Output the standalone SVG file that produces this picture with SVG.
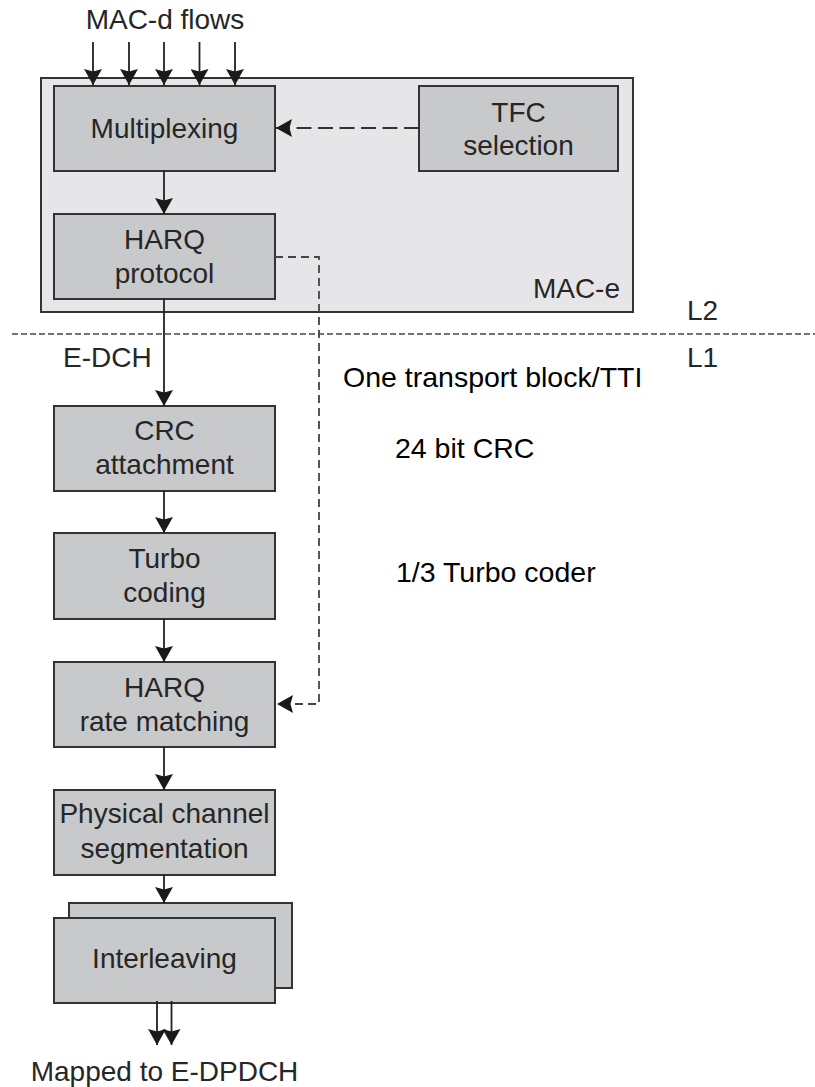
<svg xmlns="http://www.w3.org/2000/svg" width="815" height="1087" viewBox="0 0 815 1087">
  <style>
    .box { fill: #c8c9cb; stroke: #333; stroke-width: 2; }
    .outer { fill: #e6e6e8; stroke: #333; stroke-width: 2; }
    .lbl { font-family: "Liberation Sans", Arial, sans-serif; font-size: 28px; fill: #262626; text-anchor: middle; }
    .note { font-family: "Liberation Sans", Arial, sans-serif; font-size: 28.5px; fill: #000; }
    .tag { font-family: "Liberation Sans", Arial, sans-serif; font-size: 28px; fill: #262626; }
    .flow { stroke: #222; stroke-width: 1.8; fill: none; }
    .dash1 { stroke: #333; stroke-width: 2; fill: none; stroke-dasharray: 15 6.5; }
    .dash2 { stroke: #444; stroke-width: 1.8; fill: none; stroke-dasharray: 8 5; }
    .layer { stroke: #444; stroke-width: 1.6; fill: none; stroke-dasharray: 6 3; }
  </style>
  <defs>
    <!-- filled arrowhead, slightly notched at the back -->
    <marker id="arrow" markerUnits="userSpaceOnUse" markerWidth="16" markerHeight="18" refX="16" refY="9" orient="auto">
      <path d="M0,0 L16,9 L0,18 L2.5,9 z" fill="#1a1a1a"/>
    </marker>
  </defs>

  <!-- MAC-e container -->
  <g id="mac-e">
    <rect class="outer" x="41" y="78" width="592" height="234"/>
    <text class="tag" x="620" y="298" text-anchor="end">MAC-e</text>
  </g>

  <g id="multiplexing">
    <rect class="box" x="54" y="86" width="221" height="85"/>
    <text class="lbl" x="164.5" y="138">Multiplexing</text>
  </g>

  <g id="tfc-selection">
    <rect class="box" x="419" y="86" width="199" height="85"/>
    <text class="lbl" x="518.5" y="122">TFC</text>
    <text class="lbl" x="518.5" y="155">selection</text>
  </g>

  <g id="harq-protocol">
    <rect class="box" x="54" y="214" width="221" height="85"/>
    <text class="lbl" x="164.5" y="249">HARQ</text>
    <text class="lbl" x="164.5" y="283">protocol</text>
  </g>

  <g id="crc-attachment">
    <rect class="box" x="54" y="406" width="221" height="85"/>
    <text class="lbl" x="164.5" y="440">CRC</text>
    <text class="lbl" x="164.5" y="474">attachment</text>
  </g>

  <g id="turbo-coding">
    <rect class="box" x="54" y="533" width="221" height="86"/>
    <text class="lbl" x="164.5" y="568">Turbo</text>
    <text class="lbl" x="164.5" y="602">coding</text>
  </g>

  <g id="harq-rate-matching">
    <rect class="box" x="54" y="662" width="221" height="85"/>
    <text class="lbl" x="164.5" y="697">HARQ</text>
    <text class="lbl" x="164.5" y="731">rate matching</text>
  </g>

  <g id="segmentation">
    <rect class="box" x="54" y="790" width="221" height="85"/>
    <text class="lbl" x="164.5" y="823">Physical channel</text>
    <text class="lbl" x="164.5" y="858">segmentation</text>
  </g>

  <g id="interleaving">
    <rect class="box" x="69" y="903" width="223" height="85"/>
    <rect class="box" x="54" y="918" width="221" height="85"/>
    <text class="lbl" x="164.5" y="968">Interleaving</text>
  </g>

  <!-- layer boundary -->
  <g id="layer-boundary">
    <line class="layer" x1="12" y1="334" x2="815" y2="334"/>
    <text class="tag" x="687" y="320">L2</text>
    <text class="tag" x="687" y="367">L1</text>
  </g>

  <!-- connectors -->
  <g id="connectors">
    <line class="flow" x1="93" y1="42" x2="93" y2="85" marker-end="url(#arrow)"/>
    <line class="flow" x1="129" y1="42" x2="129" y2="85" marker-end="url(#arrow)"/>
    <line class="flow" x1="164" y1="42" x2="164" y2="85" marker-end="url(#arrow)"/>
    <line class="flow" x1="199.5" y1="42" x2="199.5" y2="85" marker-end="url(#arrow)"/>
    <line class="flow" x1="235" y1="42" x2="235" y2="85" marker-end="url(#arrow)"/>
    <line class="flow" x1="164" y1="171" x2="164" y2="214" marker-end="url(#arrow)"/>
    <line class="flow" x1="164" y1="299" x2="164" y2="406" marker-end="url(#arrow)"/>
    <line class="flow" x1="164" y1="491" x2="164" y2="533" marker-end="url(#arrow)"/>
    <line class="flow" x1="164" y1="619" x2="164" y2="662" marker-end="url(#arrow)"/>
    <line class="flow" x1="164" y1="747" x2="164" y2="790" marker-end="url(#arrow)"/>
    <line class="flow" x1="164" y1="875" x2="164" y2="903" marker-end="url(#arrow)"/>
    <line class="flow" x1="157" y1="1001" x2="157" y2="1045" marker-end="url(#arrow)"/>
    <line class="flow" x1="171.5" y1="1001" x2="171.5" y2="1045" marker-end="url(#arrow)"/>
    <line class="dash1" x1="419" y1="128" x2="276" y2="128" marker-end="url(#arrow)"/>
    <path class="dash2" d="M275,257 H319 V704 H277" marker-end="url(#arrow)"/>
  </g>

  <!-- free labels -->
  <g id="labels">
    <text class="tag" x="165" y="29" text-anchor="middle">MAC-d flows</text>
    <text class="tag" x="63" y="367">E-DCH</text>
    <text class="tag" x="164.5" y="1081" text-anchor="middle">Mapped to E-DPDCH</text>
    <text class="note" x="343" y="387">One transport block/TTI</text>
    <text class="note" x="395" y="458">24 bit CRC</text>
    <text class="note" x="396" y="582">1/3 Turbo coder</text>
  </g>
</svg>
